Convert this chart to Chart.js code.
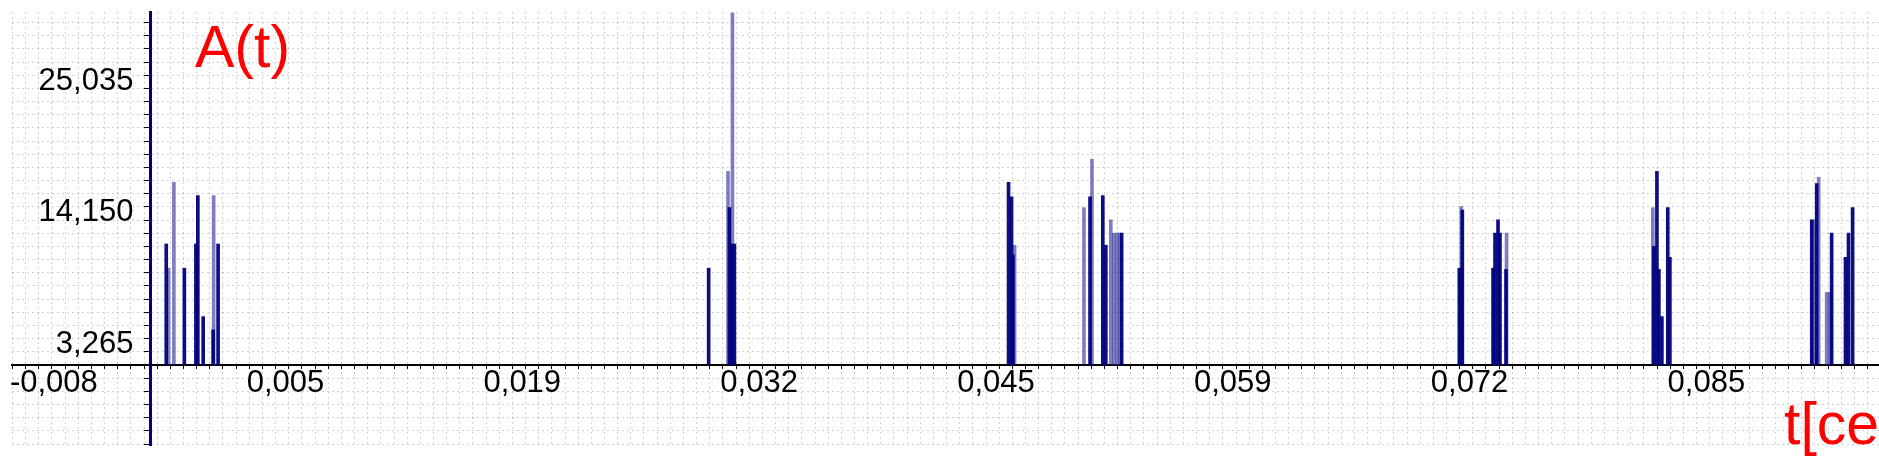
<!DOCTYPE html>
<html>
<head>
<meta charset="utf-8">
<script src="https://cdn.jsdelivr.net/npm/chart.js@4/dist/chart.umd.min.js"></script>
<style>
  body { margin: 0; background: #fff; overflow: hidden; }
  #wrap { position: relative; width: 1879px; height: 462px; overflow: hidden; }
  .etiqueta { position: absolute; color: #ff0000; font-family: 'Liberation Sans', Arial, sans-serif;
              font-size: 59px; line-height: 59px; white-space: nowrap; }
</style>
</head>
<body>
<div id="wrap">
  <canvas id="myChart"></canvas>
  <div class="etiqueta" style="left:195px; top:18px;">A(t)</div>
  <div class="etiqueta" style="left:1784px; top:395px;">t[сек]</div>
</div>
<script>
 // Picos oscuros: instante (s) y amplitud
 var tOscuro = [0.00088, 0.00190, 0.00255, 0.00266, 0.00296, 0.00352, 0.00380,
                0.03143, 0.03260, 0.03272, 0.03288,
                0.04832, 0.04849, 0.04857, 0.05291, 0.05363, 0.05380, 0.05469,
                0.07371, 0.07388, 0.07561, 0.07572, 0.07589, 0.07600, 0.07634,
                0.08467, 0.08484, 0.08495, 0.08512, 0.08545, 0.08557,
                0.09356, 0.09384, 0.09468, 0.09546, 0.09563, 0.09586];
 var aOscuro = [10.0, 8.0, 10.0, 14.0, 4.0, 2.9, 10.0,
                8.0, 13.0, 10.0, 10.0,
                15.1, 13.9, 9.1, 13.9, 14.0, 9.9, 10.9,
                8.0, 12.8, 8.0, 10.9, 12.0, 10.9, 7.9,
                9.8, 16.0, 7.9, 4.0, 13.0, 8.9,
                12.0, 15.0, 10.9, 8.9, 10.9, 13.0];

 // Picos claros (semitransparentes)
 var tClaro = [0.00101, 0.00131, 0.00355,
               0.03252, 0.03277,
               0.04866, 0.05257, 0.05302, 0.05408, 0.05425, 0.05442, 0.05458,
               0.07382, 0.07637,
               0.08461,
               0.09367, 0.09395, 0.09440, 0.09457];
 var aClaro = [8.0, 15.1, 14.0,
               16.0, 29.1,
               9.9, 13.0, 17.0, 12.0, 10.9, 10.9, 10.9,
               13.1, 10.9,
               13.0,
               12.0, 15.5, 6.0, 6.0];

 // Etiquetas de los ejes
 var etiquetasX = ['-0,008', '0,005', '0,019', '0,032', '0,045', '0,059', '0,072', '0,085'];
 var etiquetasY = ['3,265', '14,150', '25,035'];
 var pasoX = 0.000741;  // paso de la rejilla en t
 var pasoY = 1.0885;    // paso de la rejilla en A

 function puntos(ts, as) {
   return ts.map(function (t, i) { return { x: t, y: as[i] }; });
 }

 function marcas(desde, hasta, paso) {
   var lista = [];
   for (var k = desde; k <= hasta; k++) lista.push({ value: k * paso });
   return lista;
 }

 // Los ejes cruzan el área: sin relleno extra
 function sinRelleno(s) {
   s.paddingLeft = 0; s.paddingRight = 0; s.paddingTop = 0; s.paddingBottom = 0;
 }

 var fuente = { family: "'Liberation Sans', Arial, sans-serif", size: 31, lineHeight: 1 };
 var rejilla = 'rgba(0, 0, 0, 0.18)';

 var ctx = document.getElementById('myChart').getContext('2d');
 var myChart = new Chart(ctx, {
   type: 'bar',
   data: {
     datasets: [{
       label: 'A(t)',
       data: puntos(tOscuro, aOscuro),
       backgroundColor: 'rgba(0, 0, 125, 0.95)',
       barThickness: 3,
       grouped: false
     }, {
       label: 'A(t) claro',
       data: puntos(tClaro, aClaro),
       backgroundColor: 'rgba(40, 40, 150, 0.6)',
       barThickness: 3,
       grouped: false
     }]
   },
   options: {
     responsive: true,
     maintainAspectRatio: false,
     animation: false,
     layout: { padding: { left: 12, top: 12, right: 0, bottom: 17 } },
     plugins: {
       legend: { display: false },
       tooltip: { enabled: false }
     },
     scales: {
       x: {
         type: 'linear',
         position: { y: 0 },
         bounds: 'data',
         min: -0.00744,
         max: 0.09698,
         afterBuildTicks: function (s) { s.ticks = marcas(-11, 131, pasoX); },
         afterFit: sinRelleno,
         ticks: {
           autoSkip: false, maxRotation: 0, minRotation: 0,
           align: 'start', labelOffset: 4, padding: 0,
           color: '#000', font: fuente,
           callback: function (v) {
             var k = Math.round(v / pasoX) + 11;
             return k % 18 === 0 ? etiquetasX[k / 18] : '';
           }
         },
         grid: { color: rejilla, tickColor: '#000', tickLength: 3 },
         border: { color: '#000', width: 2, dash: [2, 3] }
       },
       y: {
         type: 'linear',
         position: { x: 0 },
         bounds: 'data',
         min: -6.61,
         max: 29.17,
         afterBuildTicks: function (s) { s.ticks = marcas(-6, 26, pasoY); },
         afterFit: sinRelleno,
         ticks: {
           autoSkip: false, labelOffset: 19,
           color: '#000', font: fuente,
           callback: function (v) {
             var k = Math.round(v / pasoY) - 3;
             // dos espacios separan la etiqueta del eje
             return (k >= 0 && k % 10 === 0) ? etiquetasY[k / 10] + '  ' : '';
           }
         },
         grid: { color: rejilla, tickColor: '#000', tickLength: 5 },
         border: { color: '#00007d', width: 3, dash: [2, 3] }
       }
     }
   }
 });
</script>
</body>
</html>
